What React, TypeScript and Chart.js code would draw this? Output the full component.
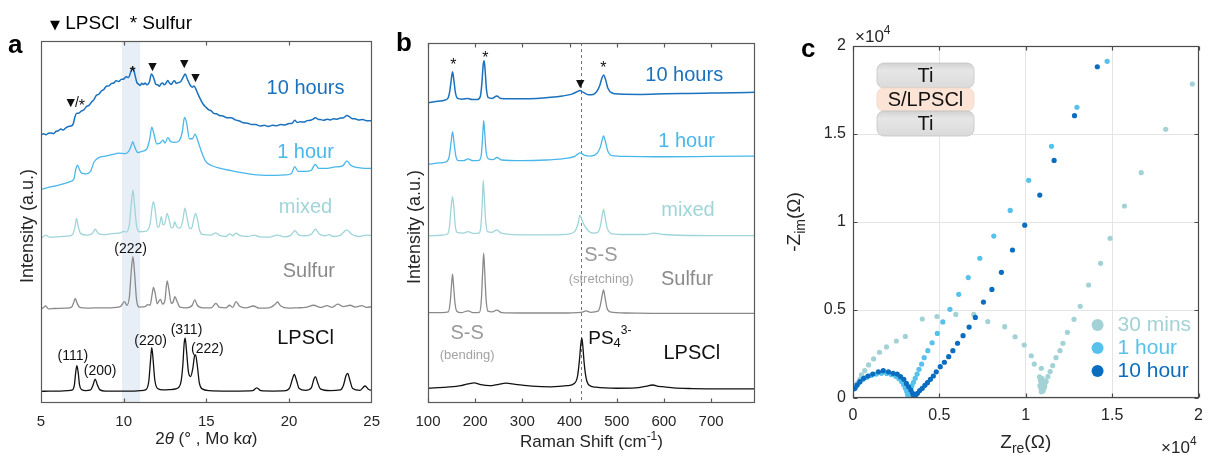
import React, { useEffect, useRef } from "react";
import { Chart, registerables } from "chart.js";

Chart.register(...registerables);

const FONT = '"Liberation Sans", Arial, Helvetica, sans-serif';
const SYM = '"DejaVu Sans", sans-serif';

type Pt = [number, number];

// ---------------- Panel a : XRD (2θ, stacked intensity in a.u.) ----------------
const xrdTickValues = [5, 10, 15, 20, 25];
const sulfurBand: Pt = [9.9, 11.0];

const xrdLPSCl: Pt[] = [
  [5.0, 3.2], [5.5, 3.3], [6.0, 3.3], [6.6, 3.4], [6.9, 3.6], [7.02, 5.0], [7.1, 8.5], [7.17, 10.3], [7.25, 8.4],
  [7.33, 5.0], [7.45, 3.7], [7.7, 3.4], [8.0, 3.6], [8.15, 5.0], [8.28, 6.6], [8.4, 5.1], [8.55, 3.7], [8.9, 3.3],
  [9.5, 3.3], [10.0, 3.3], [10.5, 3.3], [11.0, 3.4], [11.35, 3.7], [11.52, 6.0], [11.62, 11.5], [11.7, 15.3],
  [11.78, 12.0], [11.88, 6.5], [12.05, 4.0], [12.4, 3.6], [12.8, 3.7], [13.2, 4.0], [13.45, 5.5], [13.58, 10.5],
  [13.66, 16.5], [13.72, 17.9], [13.8, 14.5], [13.92, 8.5], [14.05, 7.3], [14.18, 9.5], [14.28, 12.8], [14.35, 13.3],
  [14.45, 10.5], [14.58, 5.5], [14.75, 3.9], [15.2, 3.4], [16.0, 3.3], [17.0, 3.3], [17.8, 3.4], [18.05, 4.2],
  [18.3, 3.4], [19.0, 3.3], [19.8, 3.4], [20.05, 4.3], [20.2, 6.5], [20.32, 7.9], [20.45, 6.3], [20.62, 4.0],
  [21.0, 3.5], [21.35, 4.2], [21.5, 6.5], [21.6, 7.3], [21.72, 5.8], [21.9, 3.9], [22.5, 3.4], [23.1, 3.6],
  [23.3, 5.0], [23.45, 7.6], [23.55, 8.2], [23.67, 6.5], [23.85, 4.0], [24.3, 3.5], [24.6, 4.7], [24.8, 3.8], [25.0, 3.5],
];

const xrdSulfur: Pt[] = [
  [5.0, 25.9], [5.15, 26.4], [5.28, 26.8], [5.45, 26.0], [5.8, 26.1], [6.5, 26.2], [6.85, 26.5], [6.98, 27.8],
  [7.07, 28.9], [7.18, 27.6], [7.35, 26.4], [7.8, 26.2], [8.5, 26.3], [9.2, 26.3], [9.8, 26.6], [10.05, 28.0],
  [10.2, 27.0], [10.35, 29.5], [10.47, 37.0], [10.56, 40.4], [10.65, 36.5], [10.78, 28.5], [10.95, 26.5],
  [11.3, 26.6], [11.45, 27.2], [11.6, 27.0], [11.72, 30.0], [11.8, 31.9], [11.9, 30.5], [12.03, 27.4],
  [12.15, 28.3], [12.23, 28.6], [12.35, 27.3], [12.5, 28.5], [12.63, 33.7], [12.73, 31.5], [12.88, 27.5],
  [13.0, 28.0], [13.1, 29.4], [13.22, 28.2], [13.4, 26.5], [13.8, 26.3], [14.15, 27.0], [14.3, 28.5],
  [14.45, 27.0], [14.8, 26.3], [15.3, 26.3], [15.58, 27.5], [15.8, 26.4], [16.2, 26.3], [16.4, 27.0],
  [16.6, 26.4], [16.8, 28.0], [17.0, 26.8], [17.4, 26.3], [17.85, 26.8], [18.2, 26.2], [18.8, 26.3],
  [19.15, 27.2], [19.3, 27.9], [19.5, 26.8], [20.0, 26.2], [20.5, 26.3], [21.0, 26.4], [21.5, 27.0],
  [21.9, 26.4], [22.3, 26.9], [22.6, 26.4], [22.95, 27.3], [23.3, 26.6], [23.7, 27.0], [24.0, 26.5],
  [24.4, 26.9], [24.7, 26.4], [25.0, 26.6],
];

const xrdMixed: Pt[] = [
  [5.0, 45.5], [5.15, 46.0], [5.3, 46.4], [5.5, 45.8], [6.0, 45.9], [6.6, 46.1], [6.9, 46.5], [7.05, 48.5],
  [7.15, 51.0], [7.25, 48.8], [7.4, 46.8], [7.8, 46.4], [8.1, 46.8], [8.28, 48.0], [8.45, 46.9], [8.8, 46.5],
  [9.3, 46.8], [9.8, 47.0], [10.0, 47.4], [10.15, 47.2], [10.35, 49.5], [10.47, 55.5], [10.56, 58.8],
  [10.65, 55.0], [10.78, 49.0], [10.95, 47.3], [11.3, 47.4], [11.6, 49.5], [11.72, 54.0], [11.8, 55.6],
  [11.9, 53.5], [12.05, 48.6], [12.15, 48.8], [12.28, 51.5], [12.38, 49.2], [12.5, 49.8], [12.63, 52.4],
  [12.73, 51.0], [12.88, 48.4], [13.0, 48.6], [13.08, 50.1], [13.2, 48.8], [13.4, 48.3], [13.58, 50.5],
  [13.7, 53.8], [13.82, 51.5], [13.98, 48.3], [14.1, 48.2], [14.25, 51.0], [14.35, 52.4], [14.45, 51.0],
  [14.6, 47.6], [14.8, 46.5], [15.3, 46.4], [15.58, 47.0], [15.8, 46.3], [16.2, 46.0], [16.4, 46.7],
  [16.6, 46.2], [16.8, 46.9], [17.0, 46.3], [17.5, 46.0], [17.9, 46.4], [18.2, 45.9], [18.8, 45.8],
  [19.3, 46.4], [19.7, 45.9], [20.1, 46.3], [20.35, 47.6], [20.6, 46.4], [21.0, 46.2], [21.35, 46.6],
  [21.6, 48.0], [21.85, 46.6], [22.2, 46.2], [22.4, 46.5], [22.7, 46.0], [23.1, 46.3], [23.5, 47.8],
  [23.8, 46.6], [24.2, 46.0], [24.7, 46.4], [25.0, 46.2],
];

const xrd1Hour: Pt[] = [
  [5.0, 59.0], [5.4, 59.5], [5.9, 60.0], [6.4, 60.6], [6.8, 61.2], [7.0, 62.0], [7.1, 64.5], [7.2, 65.7],
  [7.3, 64.8], [7.45, 63.5], [7.7, 63.3], [8.0, 64.0], [8.2, 66.5], [8.5, 67.8], [8.9, 68.2], [9.3, 68.6],
  [9.7, 69.0], [10.1, 68.9], [10.3, 69.5], [10.45, 71.0], [10.55, 72.2], [10.65, 71.0], [10.85, 69.2],
  [11.1, 69.5], [11.4, 70.2], [11.58, 73.0], [11.7, 76.2], [11.82, 74.5], [12.0, 71.6], [12.2, 71.8],
  [12.38, 72.6], [12.5, 71.8], [12.67, 73.3], [12.85, 72.2], [13.1, 72.0], [13.35, 72.4], [13.55, 75.0],
  [13.68, 78.9], [13.8, 77.5], [13.98, 73.0], [14.15, 73.0], [14.32, 74.3], [14.48, 72.5], [14.7, 69.5],
  [14.95, 66.8], [15.3, 65.6], [15.8, 64.9], [16.5, 64.2], [17.2, 63.6], [17.9, 63.1], [18.6, 62.9],
  [19.2, 62.9], [19.8, 63.0], [20.15, 63.4], [20.35, 65.3], [20.55, 64.0], [21.0, 64.0], [21.35, 64.3],
  [21.58, 65.9], [21.8, 64.8], [22.3, 64.8], [22.8, 65.2], [23.25, 65.5], [23.5, 66.9], [23.75, 65.6],
  [24.2, 65.0], [24.6, 64.8], [25.0, 64.8],
];

const xrd10Hours: Pt[] = [
  [5.0, 74.0], [5.15, 74.4], [5.3, 74.1], [5.45, 74.5], [5.6, 74.6], [5.75, 74.4], [5.9, 75.0], [6.05, 75.2],
  [6.2, 75.7], [6.35, 75.4], [6.5, 76.0], [6.65, 76.4], [6.8, 76.5], [6.95, 77.1], [7.05, 79.0], [7.15, 80.0],
  [7.3, 80.1], [7.45, 80.7], [7.6, 81.0], [7.75, 81.9], [7.9, 82.2], [8.05, 83.1], [8.2, 83.8], [8.35, 85.0],
  [8.5, 85.3], [8.65, 86.2], [8.8, 86.6], [8.95, 87.5], [9.1, 87.6], [9.25, 88.2], [9.4, 88.4], [9.55, 89.0],
  [9.7, 88.8], [9.85, 89.4], [10.0, 89.5], [10.15, 90.1], [10.3, 89.9], [10.42, 91.3], [10.55, 92.9],
  [10.65, 91.3], [10.8, 88.5], [10.9, 88.1], [11.0, 87.7], [11.1, 88.3], [11.2, 88.0], [11.3, 88.4],
  [11.4, 87.9], [11.55, 88.6], [11.68, 90.9], [11.8, 90.0], [11.95, 88.0], [12.05, 87.9], [12.15, 87.5],
  [12.25, 88.1], [12.35, 88.4], [12.45, 87.9], [12.55, 88.3], [12.67, 89.1], [12.78, 88.3], [12.88, 88.0],
  [12.98, 88.7], [13.08, 89.0], [13.18, 88.3], [13.3, 88.5], [13.45, 88.8], [13.6, 90.0], [13.72, 90.9],
  [13.85, 89.5], [14.0, 88.0], [14.15, 87.2], [14.25, 87.6], [14.35, 86.9], [14.45, 85.8], [14.6, 84.3],
  [14.8, 82.6], [15.0, 81.6], [15.15, 81.0], [15.3, 80.7], [15.45, 80.0], [15.6, 79.9], [15.8, 79.4],
  [16.0, 79.3], [16.25, 78.8], [16.5, 78.8], [16.75, 78.2], [17.0, 77.9], [17.25, 77.4], [17.5, 77.3],
  [17.75, 76.9], [18.0, 76.9], [18.25, 76.5], [18.5, 76.7], [18.75, 76.4], [19.0, 76.7], [19.25, 76.6],
  [19.5, 76.9], [19.75, 76.8], [20.0, 77.2], [20.2, 77.3], [20.35, 78.1], [20.5, 77.5], [20.7, 77.7],
  [20.9, 77.6], [21.1, 78.0], [21.3, 78.1], [21.45, 78.4], [21.6, 78.8], [21.75, 78.4], [21.9, 78.3],
  [22.1, 78.1], [22.3, 78.4], [22.5, 78.2], [22.7, 78.5], [22.9, 78.4], [23.1, 78.7], [23.3, 78.8],
  [23.5, 79.4], [23.65, 79.1], [23.8, 78.6], [24.0, 78.5], [24.2, 78.2], [24.45, 78.3], [24.7, 78.0], [25.0, 78.0],
];

const xrdSeriesNames = ["10 hours", "1 hour", "mixed", "Sulfur", "LPSCl"];
const xrdSeries = [xrd10Hours, xrd1Hour, xrdMixed, xrdSulfur, xrdLPSCl];
const xrdNameAt: Pt[] = [[21.0, 87.0], [21.0, 69.3], [21.0, 53.9], [21.2, 36.2], [21.0, 17.7]];
const xrdMarkText = ["▼/*", "*", "▼", "▼", "▼"];
const xrdMarkAt: Pt[] = [[7.1, 82.9], [10.54, 92.0], [11.75, 92.8], [13.67, 93.6], [14.34, 89.8]];
const xrdHklText = ["(111)", "(200)", "(220)", "(311)", "(222)", "(222)"];
const xrdHklAt: Pt[] = [[6.93, 13.0], [8.58, 8.9], [11.63, 17.2], [13.8, 20.2], [15.06, 14.9], [10.42, 42.5]];

// ---------------- Panel b : Raman (shift, stacked intensity in a.u.) ----------------
const ramanTickValues = [100, 200, 300, 400, 500, 600, 700];
const ramanPS4Line = 425;

const ramanLPSCl: Pt[] = [
  [100, 4.1], [140, 4.4], [170, 4.8], [185, 5.3], [198, 5.6], [212, 5.1], [230, 4.8], [250, 5.2], [265, 5.5],
  [285, 5.2], [320, 4.7], [360, 4.5], [395, 4.8], [410, 5.4], [417, 7.5], [421, 12.0], [424, 16.5], [426, 18.0],
  [428, 16.0], [431, 11.0], [435, 7.0], [441, 5.0], [455, 4.4], [500, 4.1], [540, 4.2], [560, 4.6], [576, 5.0],
  [590, 4.6], [601, 4.5], [620, 4.2], [660, 4.0], [720, 3.9], [793, 3.9],
];
const ramanSulfur: Pt[] = [
  [100, 25.1], [130, 25.1], [143, 25.3], [147, 28.0], [150, 33.0], [152, 35.8], [154, 33.0], [157, 28.0],
  [161, 25.5], [170, 25.1], [185, 25.6], [195, 25.1], [209, 25.2], [213, 28.5], [216, 37.0], [218, 41.6],
  [220, 37.0], [223, 29.0], [227, 25.5], [236, 25.3], [246, 25.8], [256, 25.1], [300, 25.0], [380, 25.0],
  [425, 25.2], [435, 25.6], [445, 25.2], [460, 25.5], [465, 27.0], [469, 29.8], [472, 31.4], [475, 29.5],
  [479, 26.5], [486, 25.3], [520, 25.0], [600, 24.9], [700, 24.9], [793, 24.9],
];
const ramanMixed: Pt[] = [
  [100, 46.4], [130, 46.6], [142, 47.0], [146, 49.5], [149, 54.5], [152, 57.3], [155, 54.0], [158, 49.0],
  [163, 47.3], [175, 47.2], [185, 47.6], [195, 47.1], [208, 47.2], [212, 49.0], [215, 55.5], [217, 61.8],
  [219, 58.0], [222, 51.0], [226, 47.6], [236, 47.4], [246, 48.1], [255, 47.2], [300, 46.7], [360, 46.7],
  [400, 47.0], [412, 47.8], [418, 49.8], [422, 52.2], [426, 51.0], [432, 49.2], [440, 47.8], [450, 47.2],
  [460, 47.4], [465, 49.0], [469, 52.0], [472, 53.8], [475, 51.8], [480, 48.5], [490, 47.0], [520, 46.8],
  [560, 46.8], [580, 47.2], [600, 46.8], [700, 46.5], [793, 46.5],
];
const raman1Hour: Pt[] = [
  [100, 66.3], [125, 66.7], [140, 67.1], [145, 68.5], [149, 72.5], [152, 75.4], [155, 72.5], [159, 68.6],
  [165, 67.3], [175, 67.3], [185, 67.8], [195, 67.3], [208, 67.4], [213, 69.0], [216, 74.5], [218, 78.4],
  [220, 75.5], [223, 70.0], [228, 67.8], [238, 67.6], [246, 68.2], [256, 67.5], [300, 67.3], [350, 67.5],
  [395, 68.0], [412, 68.6], [422, 69.5], [432, 68.8], [445, 68.6], [458, 69.3], [465, 71.0], [469, 73.0],
  [472, 74.2], [476, 72.6], [481, 70.0], [490, 68.7], [520, 68.5], [600, 68.4], [700, 68.5], [793, 68.6],
];
const raman10Hours: Pt[] = [
  [100, 83.4], [120, 83.8], [135, 84.1], [142, 84.6], [146, 86.5], [149, 89.5], [152, 92.0], [155, 89.5],
  [158, 86.3], [163, 84.6], [172, 84.4], [185, 84.6], [193, 84.3], [205, 84.3], [211, 85.2], [214, 88.5],
  [217, 94.0], [219, 95.1], [221, 92.5], [224, 87.0], [228, 84.8], [236, 84.6], [246, 85.3], [254, 84.6],
  [275, 84.5], [300, 84.5], [330, 84.6], [360, 84.9], [385, 85.3], [405, 85.8], [415, 86.4], [422, 86.8],
  [430, 86.2], [440, 85.6], [450, 85.7], [458, 86.6], [464, 88.2], [468, 90.0], [472, 91.1], [476, 90.0],
  [481, 87.5], [490, 86.1], [505, 85.8], [550, 85.7], [604, 85.9], [650, 86.0], [700, 86.1], [750, 86.2], [793, 86.3],
];

const ramanSeriesNames = ["10 hours", "1 hour", "mixed", "Sulfur", "LPSCl"];
const ramanSeries = [raman10Hours, raman1Hour, ramanMixed, ramanSulfur, ramanLPSCl];
const ramanNameAt: Pt[] = [[643, 91.1], [648, 72.6], [651, 53.6], [649, 34.4], [659, 13.8]];
const ramanMarkText = ["*", "*", "▼", "*"];
const ramanMarkAt: Pt[] = [[153.6, 94.7], [221.4, 96.9], [422.7, 88.6], [471.4, 93.9]];

// ---------------- Panel c : Nyquist (Ω) ----------------
const impTickValues = [0, 5000, 10000, 15000, 20000];
const imp10Hour: Pt[] = [
  [60, 520], [110, 550], [240, 740], [400, 930], [620, 1120], [870, 1250], [1150, 1360], [1470, 1490],
  [1750, 1550], [2050, 1490], [2320, 1400], [2560, 1360], [2750, 1210], [2940, 1060], [3090, 830],
  [3220, 640], [3350, 450], [3450, 270], [3500, 120], [3550, 80], [3630, 170], [3730, 270], [3860, 420],
  [4010, 550], [4160, 720], [4310, 870], [4480, 1060], [4650, 1250], [4820, 1490], [5050, 1780],
  [5290, 2030], [5540, 2350], [5780, 2690], [6050, 3110], [6370, 3540], [6720, 4030], [7080, 4580],
  [7550, 5450], [8040, 6170], [8590, 7140], [9230, 8410], [9940, 9820], [10810, 11530], [11640, 13500],
  [12820, 16040], [14140, 18820],
];
const imp1Hour: Pt[] = [
  [120, 580], [220, 720], [360, 880], [550, 1040], [780, 1170], [1050, 1280], [1350, 1360], [1650, 1400],
  [1950, 1390], [2220, 1330], [2470, 1230], [2660, 1100], [2810, 940], [2930, 750], [3030, 560],
  [3110, 370], [3160, 200], [3200, 70], [3270, 250], [3340, 480], [3410, 700], [3500, 890], [3600, 1120],
  [3710, 1360], [3820, 1630], [3970, 1930], [4120, 2290], [4330, 2690], [4580, 3140], [4880, 3670],
  [5200, 4320], [5610, 5040], [6120, 5890], [6670, 6840], [7340, 7940], [8150, 9200], [9100, 10660],
  [10170, 12370], [11490, 14300], [12960, 16520], [14710, 19130],
];
const imp30Mins: Pt[] = [
  [150, 700], [220, 800], [300, 870], [400, 1060], [490, 1310], [680, 1550], [900, 1880], [1190, 2220],
  [1530, 2600], [1940, 2900], [2510, 3240], [3030, 3500], [4010, 4490], [4860, 4630], [5950, 4750],
  [6990, 4750], [7800, 4340], [8780, 4050], [9380, 3480], [9910, 3010], [10320, 2400], [10490, 1930],
  [10900, 1690], [10800, 1200], [10850, 1000], [10900, 850], [10820, 700], [10880, 550], [10950, 450],
  [10900, 350], [11000, 400], [11050, 550], [11100, 700], [11000, 900], [11150, 950], [10950, 1100],
  [11070, 640], [11170, 930], [11280, 1210], [11410, 1500], [11560, 1840], [11750, 2290], [11980, 2690],
  [12150, 3110], [12410, 3730], [12790, 4470], [13150, 5210], [13640, 6420], [14330, 7650], [14880, 9070],
  [15710, 10910], [16680, 12800], [18100, 15270], [19640, 17840],
];
const impSeriesNames = ["30 mins", "1 hour", "10 hour"];
const impSeries = [imp30Mins, imp1Hour, imp10Hour];
const insetLayers = ["Ti", "S/LPSCl", "Ti"];

// ---------------- styles ----------------
const XRD_COLORS = ["#1a71bd", "#4ab7ea", "#9fd5d9", "#8a8a8a", "#111111"];
const RAMAN_COLORS = ["#1a71bd", "#4ab7ea", "#9fd5d9", "#8a8a8a", "#111111"];
const IMP_COLORS = ["#a2d2d5", "#56c1ea", "#0b6dbf"];
const FRAME = "#5a5a5a";

type Run = { t: string; size: number; font?: string; italic?: boolean; bold?: boolean; dy?: number };

function fontOf(r: Run) {
  return `${r.italic ? "italic " : ""}${r.bold ? "bold " : ""}${r.size}px ${r.font || FONT}`;
}

function drawRich(
  ctx: CanvasRenderingContext2D, runs: Run[], x: number, y: number, color: string,
  align: "left" | "center" | "right" = "center", angle = 0, baseline: CanvasTextBaseline = "alphabetic"
) {
  ctx.save();
  ctx.translate(x, y);
  if (angle) ctx.rotate(angle);
  ctx.fillStyle = color;
  ctx.textBaseline = baseline;
  ctx.textAlign = "left";
  let total = 0;
  const ws = runs.map((r) => {
    ctx.font = fontOf(r);
    const w = ctx.measureText(r.t).width;
    total += w;
    return w;
  });
  let cx = align === "left" ? 0 : align === "center" ? -total / 2 : -total;
  runs.forEach((r, i) => {
    ctx.font = fontOf(r);
    ctx.fillText(r.t, cx, r.dy || 0);
    cx += ws[i];
  });
  ctx.restore();
}

function markRuns(t: string, size: number): Run[] {
  const runs: Run[] = [];
  for (const ch of t) {
    if (ch === "▼") runs.push({ t: ch, size: size - 3, font: SYM, dy: 0 });
    else if (ch === "*") runs.push({ t: ch, size: size + 2, dy: 4 });
    else runs.push({ t: ch, size });
  }
  return runs;
}

function drawFrame(ctx: CanvasRenderingContext2D, chart: any, xt: number[], yt: number[], color: string, len: number) {
  const ca = chart.chartArea;
  const sx = chart.scales.x;
  const sy = chart.scales.y;
  const L = Math.round(ca.left) + 0.5;
  const R = Math.round(ca.right) - 0.5;
  const T = Math.round(ca.top) + 0.5;
  const B = Math.round(ca.bottom) - 0.5;
  ctx.save();
  ctx.strokeStyle = color;
  ctx.lineWidth = 1.2;
  ctx.strokeRect(L, T, R - L, B - T);
  ctx.beginPath();
  xt.forEach((v) => {
    const p = Math.round(sx.getPixelForValue(v)) + 0.5;
    ctx.moveTo(p, T); ctx.lineTo(p, T + len);
    ctx.moveTo(p, B); ctx.lineTo(p, B - len);
  });
  yt.forEach((v) => {
    const p = Math.round(sy.getPixelForValue(v)) + 0.5;
    ctx.moveTo(L, p); ctx.lineTo(L + len, p);
    ctx.moveTo(R, p); ctx.lineTo(R - len, p);
  });
  ctx.stroke();
  ctx.restore();
}

function xScale(min: number, max: number, tickVals: number[], size: number, height: number, grid: boolean, pad: number, cb?: (v: any) => string) {
  const ticks: any = {
    autoSkip: false, maxRotation: 0, minRotation: 0,
    padding: pad, color: "#262626", font: { family: FONT, size },
  };
  if (cb) ticks.callback = cb;
  return {
    type: "linear", position: "bottom", min, max,
    afterBuildTicks: (s: any) => { s.ticks = tickVals.map((v) => ({ value: v })); },
    afterFit: (s: any) => { s.height = height; },
    ticks,
    grid: { display: grid, color: "#e4e4e4", drawTicks: false, lineWidth: 1 },
    border: { display: false },
  };
}

function yScaleHidden(min: number, max: number, width: number) {
  return {
    type: "linear", position: "left", min, max,
    afterFit: (s: any) => { s.width = width; },
    ticks: { display: false },
    grid: { display: false },
    border: { display: false },
  };
}

function lineDatasets(series: Pt[][], names: string[], colors: string[]) {
  return series.map((s, i) => ({
    label: names[i],
    data: s.map(([x, y]) => ({ x, y })),
    borderColor: colors[i],
    borderWidth: i === 0 ? 1.5 : 1.3,
    pointRadius: 0,
    fill: false,
    cubicInterpolationMode: "monotone",
  }));
}

const commonOpts = {
  animation: false,
  responsive: false,
  events: [],
  plugins: { legend: { display: false }, tooltip: { enabled: false } },
};

// ---------------- configs ----------------
function xrdConfig(): any {
  const plugin = {
    id: "xrdDecor",
    beforeDatasetsDraw(chart: any) {
      const { ctx, chartArea: ca, scales } = chart;
      const x0 = scales.x.getPixelForValue(sulfurBand[0]);
      const x1 = scales.x.getPixelForValue(sulfurBand[1]);
      ctx.save();
      ctx.fillStyle = "#e8eef6";
      ctx.fillRect(x0, ca.top, x1 - x0, ca.bottom - ca.top);
      ctx.restore();
    },
    afterDraw(chart: any) {
      const { ctx, chartArea: ca, scales } = chart;
      drawFrame(ctx, chart, [10, 15, 20], [], FRAME, 4);
      const sx = scales.x, sy = scales.y;
      xrdSeriesNames.forEach((n, i) => {
        drawRich(ctx, [{ t: n, size: 20 }], sx.getPixelForValue(xrdNameAt[i][0]), sy.getPixelForValue(xrdNameAt[i][1]), XRD_COLORS[i], "center", 0, "middle");
      });
      xrdMarkText.forEach((t, i) => {
        drawRich(ctx, markRuns(t, 14), sx.getPixelForValue(xrdMarkAt[i][0]), sy.getPixelForValue(xrdMarkAt[i][1]), "#111", "center", 0, "middle");
      });
      xrdHklText.forEach((t, i) => {
        drawRich(ctx, [{ t, size: 14 }], sx.getPixelForValue(xrdHklAt[i][0]), sy.getPixelForValue(xrdHklAt[i][1]), "#111", "center", 0, "middle");
      });
      drawRich(ctx, [{ t: "Intensity (a.u.)", size: 18 }], ca.left - 8, (ca.top + ca.bottom) / 2 + 4, "#262626", "center", -Math.PI / 2);
      drawRich(ctx, [
        { t: "2", size: 17 }, { t: "θ", size: 17, italic: true }, { t: " (° , Mo k", size: 17 },
        { t: "α", size: 17, italic: true }, { t: ")", size: 17 },
      ], (ca.left + ca.right) / 2, ca.bottom + 41, "#262626", "center");
      drawRich(ctx, [{ t: "a", size: 26, bold: true }], 8, 53, "#000", "left");
      drawRich(ctx, [
        { t: "▼", size: 13, font: SYM }, { t: " LPSCl  ", size: 19 }, { t: "*", size: 19 }, { t: " Sulfur", size: 19 },
      ], 50, 29, "#000", "left");
    },
  };
  return {
    type: "line",
    data: { datasets: lineDatasets(xrdSeries, xrdSeriesNames, XRD_COLORS) },
    options: {
      ...commonOpts,
      layout: { padding: { top: 41, right: 17, left: 0, bottom: 0 } },
      scales: { x: xScale(5, 25, xrdTickValues, 15, 58, false, 10), y: yScaleHidden(0, 100, 41) },
    },
    plugins: [plugin],
  };
}

function ramanConfig(): any {
  const plugin = {
    id: "ramanDecor",
    beforeDatasetsDraw(chart: any) {
      const { ctx, chartArea: ca, scales } = chart;
      const px = Math.round(scales.x.getPixelForValue(ramanPS4Line)) + 0.5;
      ctx.save();
      ctx.strokeStyle = "#666";
      ctx.lineWidth = 0.9;
      ctx.setLineDash([3, 3]);
      ctx.beginPath();
      ctx.moveTo(px, ca.top);
      ctx.lineTo(px, ca.bottom);
      ctx.stroke();
      ctx.restore();
    },
    afterDraw(chart: any) {
      const { ctx, chartArea: ca, scales } = chart;
      drawFrame(ctx, chart, ramanTickValues, [], FRAME, 4);
      const sx = scales.x, sy = scales.y;
      const P = (x: number, y: number): Pt => [sx.getPixelForValue(x), sy.getPixelForValue(y)];
      ramanSeriesNames.forEach((n, i) => {
        const [x, y] = P(ramanNameAt[i][0], ramanNameAt[i][1]);
        drawRich(ctx, [{ t: n, size: 20 }], x, y, RAMAN_COLORS[i], "center", 0, "middle");
      });
      ramanMarkText.forEach((t, i) => {
        const [x, y] = P(ramanMarkAt[i][0], ramanMarkAt[i][1]);
        drawRich(ctx, markRuns(t, 14), x, y, "#111", "center", 0, "middle");
      });
      let q = P(466.5, 41.1);
      drawRich(ctx, [{ t: "S-S", size: 20 }], q[0], q[1], "#9a9a9a", "center", 0, "middle");
      q = P(467, 34.4);
      drawRich(ctx, [{ t: "(stretching)", size: 13 }], q[0], q[1], "#a3a3a3", "center", 0, "middle");
      q = P(183, 19.4);
      drawRich(ctx, [{ t: "S-S", size: 20 }], q[0], q[1], "#9a9a9a", "center", 0, "middle");
      q = P(183, 13.1);
      drawRich(ctx, [{ t: "(bending)", size: 13 }], q[0], q[1], "#a3a3a3", "center", 0, "middle");
      q = P(439.6, 17.8);
      drawRich(ctx, [{ t: "PS", size: 19 }, { t: "4", size: 13, dy: 5 }, { t: "3-", size: 12, dy: -8 }], q[0], q[1], "#111", "left", 0, "middle");
      drawRich(ctx, [{ t: "Intensity (a.u.)", size: 18 }], ca.left - 8, (ca.top + ca.bottom) / 2 + 4, "#262626", "center", -Math.PI / 2);
      drawRich(ctx, [{ t: "Raman Shift (cm", size: 17 }, { t: "-1", size: 12, dy: -7 }, { t: ")", size: 17 }],
        (ca.left + ca.right) / 2, ca.bottom + 44, "#262626", "center");
      drawRich(ctx, [{ t: "b", size: 26, bold: true }], 6, 51, "#000", "left");
    },
  };
  return {
    type: "line",
    data: { datasets: lineDatasets(ramanSeries, ramanSeriesNames, RAMAN_COLORS) },
    options: {
      ...commonOpts,
      layout: { padding: { top: 43, right: 15, left: 0, bottom: 0 } },
      scales: { x: xScale(100, 793, ramanTickValues, 15, 58, false, 10), y: yScaleHidden(0, 100, 38) },
    },
    plugins: [plugin],
  };
}

function impConfig(): any {
  const plugin = {
    id: "impDecor",
    afterDraw(chart: any) {
      const { ctx, chartArea: ca } = chart;
      drawFrame(ctx, chart, impTickValues, impTickValues, "#4a4a4a", 4);
      const ix = ca.left + 24, w = 97;
      const hs = [25, 23, 25];
      let iy = ca.top + 17;
      insetLayers.forEach((name, i) => {
        const h = hs[i];
        ctx.save();
        ctx.beginPath();
        (ctx as any).roundRect(ix, iy, w, h, [7]);
        if (i === 1) {
          ctx.fillStyle = "#fbe3d6";
        } else {
          const g = ctx.createLinearGradient(0, iy, 0, iy + h);
          g.addColorStop(0, "#d2d2d2");
          g.addColorStop(0.3, "#e6e6e6");
          g.addColorStop(1, "#dadada");
          ctx.fillStyle = g;
        }
        ctx.fill();
        ctx.strokeStyle = i === 1 ? "#f0d5c6" : "#c4c4c4";
        ctx.lineWidth = 0.8;
        ctx.stroke();
        ctx.restore();
        drawRich(ctx, [{ t: name, size: 20 }], ix + w / 2, iy + h / 2 + 1, "#111", "center", 0, "middle");
        iy += h;
      });
      const offs = [73, 50, 27];
      impSeriesNames.forEach((n, i) => {
        const cy = ca.bottom - offs[i];
        ctx.save();
        ctx.beginPath();
        ctx.arc(ca.right - 101, cy, 6, 0, Math.PI * 2);
        ctx.fillStyle = IMP_COLORS[i];
        ctx.fill();
        ctx.restore();
        drawRich(ctx, [{ t: n, size: 21 }], ca.right - 81, cy, IMP_COLORS[i], "left", 0, "middle");
      });
      drawRich(ctx, [{ t: "×10", size: 17 }, { t: "4", size: 12, dy: -8 }], ca.left + 2, ca.top - 4, "#262626", "left");
      drawRich(ctx, [{ t: "×10", size: 17 }, { t: "4", size: 12, dy: -8 }], ca.right - 2, ca.bottom + 55, "#262626", "right");
      drawRich(ctx, [{ t: "Z", size: 19 }, { t: "re", size: 14, dy: 5 }, { t: "(Ω)", size: 19 }],
        (ca.left + ca.right) / 2, ca.bottom + 50, "#262626", "center");
      drawRich(ctx, [{ t: "-Z", size: 19 }, { t: "im", size: 14, dy: 5 }, { t: "(Ω)", size: 19 }],
        ca.left - 53, (ca.top + ca.bottom) / 2, "#262626", "center", -Math.PI / 2);
      drawRich(ctx, [{ t: "c", size: 26, bold: true }], 21, 57, "#000", "left");
    },
  };
  const fmt = (v: any) => String(Number(v) / 10000);
  return {
    type: "scatter",
    data: {
      datasets: [2, 1, 0].map((i) => ({
        label: impSeriesNames[i],
        data: impSeries[i].map(([x, y]) => ({ x, y })),
        backgroundColor: IMP_COLORS[i],
        borderWidth: 0,
        pointRadius: 2.6,
        showLine: false,
      })),
    },
    options: {
      ...commonOpts,
      layout: { padding: { top: 46, right: 4, left: 0, bottom: 0 } },
      scales: {
        x: xScale(0, 20000, impTickValues, 16, 63, true, 8, fmt),
        y: {
          type: "linear", position: "left", min: 0, max: 20000,
          afterBuildTicks: (s: any) => { s.ticks = impTickValues.map((v) => ({ value: v })); },
          afterFit: (s: any) => { s.width = 73; },
          ticks: { padding: 7, color: "#262626", font: { family: FONT, size: 16 }, callback: fmt },
          grid: { display: true, color: "#e4e4e4", drawTicks: false, lineWidth: 1 },
          border: { display: false },
        },
      },
    },
    plugins: [plugin],
  };
}

function Panel({ left, width, make }: { left: number; width: number; make: () => any }) {
  const ref = useRef<HTMLCanvasElement>(null);
  useEffect(() => {
    const chart = new Chart(ref.current as HTMLCanvasElement, make());
    return () => chart.destroy();
  }, []);
  return (
    <canvas
      ref={ref}
      width={width}
      height={461}
      style={{ position: "absolute", left, top: 0, width, height: 461 }}
    />
  );
}

export default function App() {
  return (
    <div style={{ position: "fixed", left: 0, top: 0, width: 1211, height: 461, background: "#fff", overflow: "hidden" }}>
      <Panel left={0} width={390} make={xrdConfig} />
      <Panel left={390} width={380} make={ramanConfig} />
      <Panel left={780} width={431} make={impConfig} />
    </div>
  );
}
